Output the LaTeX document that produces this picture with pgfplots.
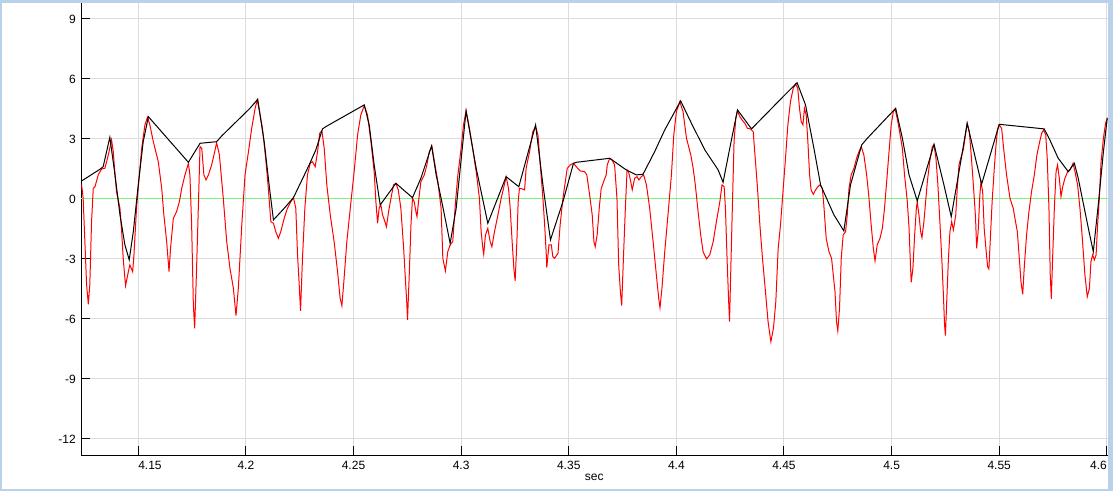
\documentclass[border=0pt]{standalone}
\usepackage{fontspec}
\setmainfont{Liberation Sans}
\usepackage{pgfplots}
\pgfplotsset{compat=1.18}
\definecolor{winborder}{RGB}{185,209,234}
\definecolor{gridgray}{RGB}{220,220,220}
\definecolor{zerogreen}{RGB}{128,240,128}
\begin{document}
\begin{tikzpicture}
\fill[winborder] (0,0) rectangle (1113bp,491bp);
\fill[white] (1.5bp,2.3bp) rectangle (1107.8bp,488bp);
\begin{axis}[
  at={(81bp,35.7bp)}, anchor=south west,
  scale only axis, width=1026.5bp, height=452.3bp,
  xmin=4.1234, xmax=4.6003, ymin=-12.85, ymax=9.765,
  axis x line*=bottom, axis y line*=left,
  axis line style={black, line width=1bp},
  tick align=inside, major tick length=9bp,
  tick style={black, line width=1bp},
  grid=major, major grid style={gridgray, line width=1bp},
  xtick={4.15,4.2,4.25,4.3,4.35,4.4,4.45,4.5,4.55,4.6},
  xticklabels={\makebox[0pt][l]{4.15},4.2,4.25,4.3,4.35,4.4,4.45,4.5,4.55,\makebox[0pt][r]{4.6}},
  ytick={-12,-9,-6,-3,0,3,6,9},
  yticklabels={-12,-9,-6,-3,0,3,6,9},
  tick label style={font=\fontsize{12bp}{14bp}\selectfont, black},
  xticklabel style={inner sep=0pt, anchor=north, yshift=-5.5bp},
  yticklabel style={inner sep=0pt, anchor=east, xshift=-5bp, yshift=-1.5bp},
  xlabel={sec},
  xlabel style={at={(axis description cs:0.5,0)}, anchor=north, inner sep=0pt, yshift=-18.5bp, font=\fontsize{12bp}{14bp}\selectfont},
]
\addplot[zerogreen, line width=1bp] coordinates {(4.1234,0) (4.6003,0)};
\addplot[red, line width=1bp] coordinates {
(4.1237,0.67)(4.1244,0)(4.1260,-4.33)(4.1268,-5.3)(4.1275,-4.3)(4.1283,-1.17)(4.1291,0.5)(4.1299,0.58)
(4.1314,1.17)(4.1330,1.47)(4.1345,1.5)(4.1361,2.17)(4.1376,2.92)(4.1384,2.33)(4.1392,1.17)(4.1399,0.33)
(4.1415,-0.5)(4.1423,-1.67)(4.1430,-3)(4.1441,-4.37)(4.1454,-3.67)(4.1461,-3.33)(4.1474,-3.67)(4.1480,-2.83)
(4.1492,-0.5)(4.1505,1.17)(4.1516,2.5)(4.1531,3.67)(4.1543,4.05)(4.1554,3.67)(4.1570,2.83)(4.1593,1.83)
(4.1609,0.5)(4.1619,-0.83)(4.1632,-2.17)(4.1643,-3.67)(4.1650,-2.5)(4.1663,-1)(4.1678,-0.67)(4.1691,-0.17)
(4.1702,0.5)(4.1717,1.17)(4.1733,1.75)(4.1740,1.17)(4.1748,-1.33)(4.1756,-5.33)(4.1762,-6.5)(4.1771,-3.5)
(4.1779,-0.5)(4.1787,2.58)(4.1795,2.5)(4.1805,1.17)(4.1815,0.92)(4.1826,1.17)(4.1841,1.67)(4.1857,2.42)
(4.1864,2.78)(4.1877,2.17)(4.1895,0)(4.1911,-2.17)(4.1926,-3.5)(4.1942,-4.5)(4.1954,-5.87)(4.1965,-4.5)
(4.1981,-1.33)(4.1996,1.17)(4.2012,2.33)(4.2027,3.5)(4.2043,4.5)(4.2053,4.92)
(4.2061,4.5)(4.2077,3.5)(4.2092,2)(4.2103,0.67)(4.2116,-1.17)(4.2128,-1.25)(4.2139,-1.67)(4.2151,-2)
(4.2162,-1.67)(4.2178,-1)(4.2193,-0.5)(4.2209,-0.17)(4.2221,0.03)(4.2232,-0.5)(4.2240,-2.83)(4.2247,-4.17)
(4.2254,-5.63)(4.2263,-3)(4.2274,-0.5)(4.2286,1.17)(4.2299,1.75)(4.2309,1.83)(4.2322,1.58)(4.2333,2.33)
(4.2343,3.25)(4.2353,3.37)(4.2364,2.5)(4.2376,0.67)(4.2392,-0.83)(4.2410,-2.17)(4.2426,-3.67)(4.2438,-5)
(4.2446,-5.37)(4.2454,-4.33)(4.2469,-2.17)(4.2485,-0.5)(4.2503,1.33)(4.2519,3.17)(4.2534,4.17)(4.2550,4.63)
(4.2565,4.17)(4.2581,2.83)(4.2596,1.33)(4.2604,-0.17)(4.2612,-1.25)(4.2619,-0.5)(4.2627,-0.33)(4.2635,-0.83)
(4.2646,-1.17)(4.2653,-1.42)(4.2663,-0.67)(4.2674,0)(4.2686,0.67)(4.2697,0.75)(4.2708,0.42)(4.2720,-0.5)
(4.2733,-2.5)(4.2740,-3.83)(4.2748,-5.33)(4.2751,-6.08)(4.2759,-3.83)(4.2767,-1.33)(4.2774,0)(4.2782,-0.17)
(4.2790,-0.67)(4.2795,-0.92)(4.2802,-0.17)(4.2813,0.83)(4.2829,1.17)(4.2841,1.67)(4.2852,2.33)(4.2864,2.6)
(4.2876,1.83)(4.2892,0.83)(4.2907,-0.5)(4.2915,-3)(4.2927,-3.63)(4.2938,-2.67)(4.2949,-2.33)(4.2961,-2.17)
(4.2974,-0.17)(4.2985,1.17)(4.3000,2.5)(4.3011,3.67)(4.3023,4.37)(4.3036,3.67)(4.3051,2.67)(4.3070,1.33)
(4.3085,0)(4.3093,-1.67)(4.3101,-2.5)(4.3105,-2.8)(4.3113,-1.83)(4.3124,-1.5)(4.3135,-2.17)(4.3143,-2.42)
(4.3155,-1.67)(4.3171,-0.83)(4.3186,0)(4.3197,0.5)(4.3209,1.08)(4.3220,0.5)(4.3228,-0.5)(4.3237,-2.17)
(4.3245,-3.5)(4.3251,-4.13)(4.3259,-2.17)(4.3265,-0.17)(4.3271,0.5)(4.3284,0.47)(4.3295,0.42)(4.3302,1.5)
(4.3318,2.33)(4.3333,3.33)(4.3346,3.58)(4.3357,3.17)(4.3369,1.5)(4.3380,0)(4.3388,-1.33)(4.3395,-2.67)
(4.3398,-3.47)(4.3408,-2.33)(4.3419,-2.33)(4.3426,-2.92)(4.3434,-3)(4.3450,-2.75)(4.3460,-1.33)(4.3473,0)
(4.3484,0.83)(4.3493,1.5)(4.3507,1.67)(4.3522,1.75)(4.3535,1.58)(4.3553,1.37)(4.3574,1.33)(4.3584,1.17)
(4.3597,0.17)(4.3609,-0.83)(4.3617,-2.17)(4.3623,-2.42)(4.3632,-1.83)(4.3643,-0.33)(4.3651,0.5)(4.3662,0.83)
(4.3674,1.17)(4.3679,1.67)(4.3690,2.0)(4.3701,1.92)(4.3713,1.67)(4.3724,0)(4.3732,-3.33)(4.3740,-4.67)
(4.3746,-5.37)(4.3754,-3)(4.3763,-0.5)(4.3771,1.42)(4.3778,1.33)(4.3788,0.83)(4.3795,0.42)(4.3806,1.0)
(4.3817,1.08)(4.3826,0.92)(4.3837,1.08)(4.3848,1.17)(4.3861,0.67)(4.3876,-0.5)(4.3892,-2.17)(4.3907,-3.83)
(4.3918,-5)(4.3924,-5.47)(4.3933,-4.5)(4.3946,-2.67)(4.3961,-0.83)(4.3977,1.17)(4.3988,3.17)(4.4000,4.33)
(4.4016,4.83)(4.4031,4.33)(4.4047,3)(4.4067,2.17)(4.4078,1.5)(4.4088,0.67)(4.4101,-0.67)(4.4113,-1.83)
(4.4124,-2.67)(4.4140,-3.03)(4.4155,-2.83)(4.4171,-2.17)(4.4186,-1.17)(4.4202,-0.17)(4.4212,0.67)(4.4222,0.58)
(4.4228,-0.5)(4.4236,-3.17)(4.4243,-5.17)(4.4247,-6.17)(4.4253,-3.5)(4.4260,-0.5)(4.4268,2.83)(4.4276,4)
(4.4284,4.37)(4.4295,4.08)(4.4305,3.92)(4.4318,3.75)(4.4330,3.5)(4.4344,3.47)(4.4357,3.33)(4.4364,2.33)
(4.4377,0.5)(4.4388,-1.33)(4.4400,-3)(4.4414,-4.67)(4.4426,-6.17)(4.4439,-7.17)(4.4451,-6.5)(4.4462,-5.17)
(4.4473,-2.5)(4.4484,-1.3)(4.4493,0)
(4.4507,2)(4.4518,3.67)(4.4530,4.83)(4.4543,5.5)(4.4554,5.72)(4.4564,5.5)(4.4572,4.5)(4.4580,3.83)
(4.4588,3.67)(4.4595,4.5)(4.4603,4.17)(4.4611,2.83)(4.4619,1.17)(4.4626,0.42)(4.4636,0.2)(4.4647,0.42)
(4.4657,0.58)(4.4667,0.67)(4.4678,0.5)(4.4685,-0.33)(4.4696,-2)(4.4709,-2.67)(4.4721,-3)(4.4729,-3.83)
(4.4737,-4.67)(4.4744,-6.17)(4.4750,-6.63)(4.4758,-5.5)(4.4766,-3)(4.4775,-1.83)(4.4786,-1.67)(4.4794,-0.83)
(4.4802,0.5)(4.4812,1.17)(4.4825,1.5)(4.4837,2)(4.4848,2.33)(4.4859,2.58)(4.4871,2.17)(4.4884,1.17)
(4.4895,0)(4.4905,-1.33)(4.4915,-2.5)(4.4923,-3.13)(4.4933,-2.33)(4.4946,-2)(4.4957,-1.5)(4.4967,-0.5)
(4.4977,0.83)(4.4988,2.33)(4.4998,3.67)(4.5008,4.33)(4.5016,4.47)(4.5026,4)(4.5037,3.33)(4.5050,2.5)
(4.5060,1.17)(4.5073,-0.17)(4.5081,-1.5)(4.5087,-3.17)(4.5091,-4.2)(4.5099,-3.5)(4.5107,-1.83)(4.5115,-0.5)
(4.5119,-0.17)(4.5127,-0.83)(4.5135,-1.67)(4.5141,-1.97)(4.5150,-1.17)(4.5158,-0.17)(4.5166,0.83)(4.5177,1.83)
(4.5189,2.58)(4.5197,2.67)(4.5206,2)(4.5215,0.67)(4.5225,-1.33)(4.5233,-3)(4.5240,-4.67)(4.5246,-6.33)
(4.5250,-6.87)(4.5256,-5.17)(4.5264,-3)(4.5271,-1.67)(4.5279,-1.17)(4.5287,-1.58)(4.5298,-0.83)(4.5305,0.5)
(4.5313,1.67)(4.5321,2)
(4.5333,2.42)(4.5343,3.17)(4.5351,3.75)(4.5361,3.33)(4.5371,2)(4.5382,0.33)(4.5390,-1)(4.5395,-2.5)
(4.5402,-1.67)(4.5410,0.17)(4.5415,0.83)(4.5423,0.33)(4.5430,-1.5)(4.5438,-2.5)(4.5446,-3.42)(4.5452,-3.53)
(4.5458,-2.17)(4.5467,-0.17)(4.5477,1.5)(4.5485,2.67)(4.5492,3.42)(4.5500,3.67)(4.5511,3.5)(4.5522,2.33)
(4.5534,1.17)(4.5550,0)(4.5565,-0.5)(4.5573,-1)(4.5584,-1.67)(4.5591,-2.67)(4.5601,-4.17)(4.5609,-4.8)
(4.5616,-3.5)(4.5627,-1.83)(4.5638,-0.67)(4.5650,0.33)(4.5663,1.17)(4.5675,2.17)(4.5688,2.83)(4.5697,3.25)
(4.5706,3.42)(4.5716,3.17)(4.5723,2)(4.5731,-0.5)(4.5737,-3.83)(4.5742,-5.03)(4.5748,-3)(4.5756,-0.5)
(4.5764,1.33)(4.5771,1.67)(4.5779,1)(4.5787,0.08)(4.5795,0.58)(4.5805,1)(4.5818,1.33)(4.5829,1.42)
(4.5843,1.75)(4.5852,1.33)(4.5864,0.67)(4.5875,-0.5)(4.5886,-2)(4.5898,-3.83)(4.5909,-4.92)(4.5919,-4.5)
(4.5926,-3.17)(4.5934,-2.83)(4.5942,-3.08)(4.5950,-2.83)(4.5957,-1.33)(4.5965,0)(4.5973,1.83)(4.5984,3)
(4.5994,3.75)(4.6002,4.0)
};
\addplot[black, line width=1bp] coordinates {
(4.1237,0.87)(4.1322,1.45)(4.1337,1.58)(4.1368,3.05)(4.1392,1.17)(4.1415,-0.83)(4.1438,-2.33)(4.1458,-3.08)
(4.1477,-1.67)(4.1500,0.67)(4.1523,2.83)(4.1547,4.08)(4.1733,1.8)(4.1787,2.75)(4.1864,2.83)(4.1888,3.12)
(4.2019,4.5)(4.2055,4.95)(4.2061,4.5)(4.2085,2.83)(4.2108,0.67)(4.2128,-1.08)(4.2178,-0.5)(4.2221,0.03)
(4.2294,1.67)(4.2325,2.42)(4.2356,3.47)(4.2371,3.58)(4.2550,4.67)(4.2573,3.67)(4.2596,1.67)(4.2624,-0.33)
(4.2697,0.75)(4.2774,0.03)(4.2813,1.0)(4.2863,2.62)(4.2884,1.17)(4.2907,0)(4.2949,-2.25)(4.2977,-0.5)
(4.3023,4.37)(4.3070,1.5)(4.3124,-1.25)(4.3209,1.08)(4.3268,0.58)(4.3346,3.67)(4.3380,0.67)(4.3415,-2.08)
(4.3473,-0.17)(4.3522,1.75)(4.3535,1.8)(4.3690,2.0)(4.3713,1.83)(4.3767,1.42)(4.3814,1.17)(4.3845,1.2)
(4.3899,2.33)(4.3946,3.42)(4.4020,4.87)(4.4070,3.75)(4.4132,2.42)(4.4194,1.42)(4.4217,0.8)(4.4248,2.5)
(4.4284,4.42)(4.4349,3.47)(4.4504,5.17)(4.4561,5.78)(4.4600,4.67)(4.4639,2.5)(4.4670,0.67)(4.4732,-0.83)
(4.4778,-1.63)(4.4809,0.67)(4.4861,2.67)(4.4887,3.0)(4.5019,4.5)(4.5050,3.0)(4.5081,1.17)(4.5119,-0.13)
(4.5197,2.7)(4.5243,0.67)(4.5277,-0.92)(4.5321,1.83)(4.5351,3.75)(4.5418,0.7)(4.5500,3.7)(4.5709,3.47)
(4.5735,2.92)(4.5774,2.0)(4.5821,1.33)(4.5849,1.75)(4.5867,1.0)(4.5914,-1.5)(4.5937,-2.67)(4.5960,-0.33)
(4.5984,2.33)(4.6002,4.03)
};
\end{axis}
\end{tikzpicture}
\end{document}
